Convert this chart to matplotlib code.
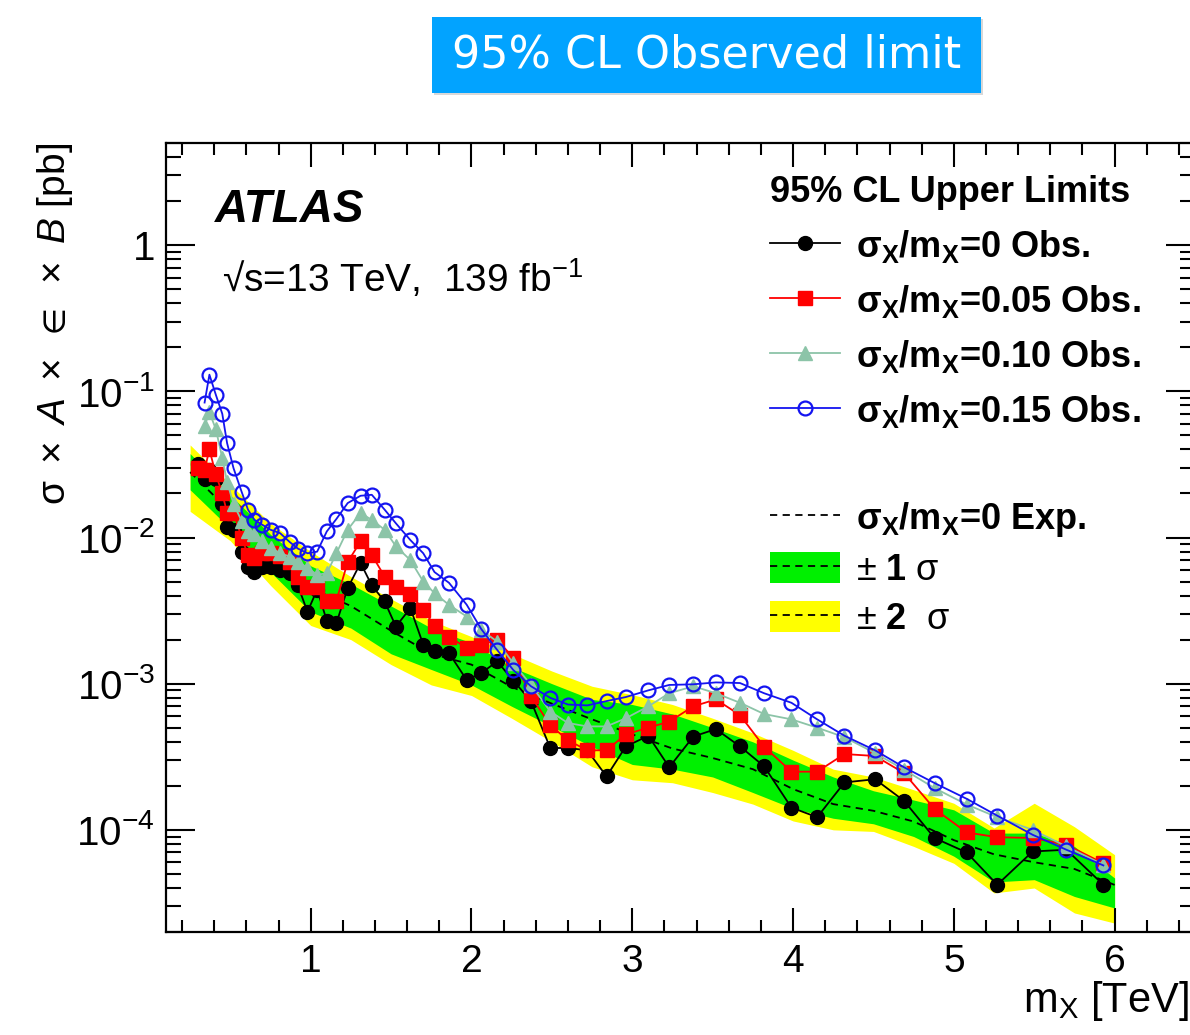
import matplotlib
matplotlib.use('Agg')
import matplotlib.pyplot as plt
import numpy as np
from matplotlib.lines import Line2D
from matplotlib.patches import Patch, Rectangle
from matplotlib.legend_handler import HandlerTuple
from matplotlib.ticker import MultipleLocator, LogLocator, FuncFormatter, NullFormatter

plt.rcParams['font.family'] = ['Liberation Sans', 'DejaVu Sans']
plt.rcParams['mathtext.fontset'] = 'custom'
plt.rcParams['mathtext.rm'] = 'Liberation Sans'
plt.rcParams['mathtext.it'] = 'Liberation Sans:italic'
plt.rcParams['mathtext.bf'] = 'Liberation Sans:bold'
plt.rcParams['mathtext.sf'] = 'Liberation Sans'
plt.rcParams['mathtext.fallback'] = 'stixsans'

# mass points [TeV]
mass = [0.30, 0.34, 0.37, 0.41, 0.45, 0.48, 0.52, 0.57, 0.61, 0.65, 0.70, 0.75, 0.81,
        0.87, 0.92, 0.98, 1.04, 1.10, 1.16, 1.23, 1.31, 1.38, 1.46, 1.53, 1.62, 1.70,
        1.77, 1.86, 1.97, 2.06, 2.16, 2.26, 2.37, 2.49, 2.60, 2.72, 2.84, 2.96, 3.10,
        3.23, 3.38, 3.52, 3.67, 3.82, 3.99, 4.15, 4.32, 4.51, 4.69, 4.88, 5.08, 5.27,
        5.49, 5.70, 5.93]

# observed limits [pb]
obs_w0 = [0.032, 0.025, 0.029, 0.025, 0.017, 0.0118, 0.0113, 0.0080, 0.0063, 0.0058,
          0.0063, 0.0063, 0.0060, 0.0057, 0.0047, 0.0031, 0.0044, 0.0027, 0.0026, 0.0045,
          0.0067, 0.0047, 0.00365, 0.00246, 0.00329, 0.00185, 0.00166, 0.00162, 0.00106,
          0.00118, 0.00142, 0.00105, 0.00076, 0.000363, 0.000363, 0.00035, 0.000232,
          0.000372, 0.00044, 0.000268, 0.000435, 0.000489, 0.000372, 0.000272, 0.000142,
          0.000122, 0.000211, 0.000222, 0.000158, 0.0000879, 0.000070, 0.0000421,
          0.0000711, 0.0000731, 0.0000421]
obs_w5 = [0.030, 0.029, 0.040, 0.027, 0.020, 0.0148, 0.0148, 0.0100, 0.0076, 0.0072,
          0.0078, 0.0078, 0.0075, 0.0068, 0.0054, 0.0046, 0.0046, 0.0037, 0.0037, 0.0068,
          0.0094, 0.0076, 0.0054, 0.0046, 0.0041, 0.0032, 0.0025, 0.0021, 0.00175,
          0.00184, 0.0020, 0.0015, 0.00082, 0.00052, 0.00041, 0.00035, 0.00035, 0.00045,
          0.00050, 0.00055, 0.00070, 0.00078, 0.00061, 0.00037, 0.00025, 0.00025, 0.00033,
          0.00032, 0.000245, 0.000139, 0.000096, 0.000089, 0.000088, 0.000079, 0.000059]
obs_w10 = [np.nan, 0.058, 0.072, 0.055, 0.035, 0.024, 0.017, 0.013, 0.011, 0.0105,
           0.0095, 0.0085, 0.0078, 0.0074, 0.00685, 0.0062, 0.00556, 0.0057, 0.0078,
           0.0113, 0.0147, 0.0132, 0.0113, 0.0087, 0.0070, 0.0050, 0.00416, 0.00346,
           0.00288, 0.00233, 0.00194, 0.00138, 0.00098, 0.000645, 0.000538, 0.00051,
           0.00051, 0.00058, 0.00070, 0.00086, 0.00096, 0.00086, 0.00074, 0.00062, 0.00057,
           0.00050, 0.00043, 0.000335, 0.000258, 0.000193, 0.000149, 0.000122, 0.000100,
           0.000077, 0.0000577]
obs_w15 = [np.nan, 0.0838, 0.130, 0.0947, 0.0702, 0.0442, 0.0298, 0.0206, 0.0155, 0.0132,
           0.0122, 0.0113, 0.0107, 0.0093, 0.0084, 0.0078, 0.0080, 0.0110, 0.0134, 0.0172,
           0.0193, 0.0196, 0.0155, 0.0125, 0.0096, 0.0078, 0.0058, 0.0049, 0.00347,
           0.00237, 0.0017, 0.00124, 0.00096, 0.00080, 0.00072, 0.00071, 0.00076, 0.00081,
           0.00090, 0.00098, 0.00099, 0.00102, 0.00101, 0.00086, 0.00074, 0.00057, 0.00044,
           0.00035, 0.000268, 0.000209, 0.000163, 0.000125, 0.0000925, 0.0000731, 0.0000571]

# expected limit (sigma/m = 0) and bands
band_mass = [0.25, 0.50, 0.75, 1.00, 1.25, 1.50, 1.75, 2.00, 2.25, 2.50, 2.75, 3.00,
             3.25, 3.50, 3.75, 4.00, 4.25, 4.50, 4.75, 5.00, 5.25, 5.50, 5.75, 6.00]
exp_lim = [0.028, 0.015, 0.0078, 0.0045, 0.0034, 0.0023, 0.0016, 0.00135, 0.00095,
           0.00073, 0.00057, 0.00045, 0.00036, 0.00031, 0.00026, 0.00019, 0.00015,
           0.000135, 0.000114, 0.000085, 0.000068, 0.00006, 0.000054, 0.000042]
exp_p1 = [0.0375, 0.0195, 0.0105, 0.0064, 0.0048, 0.0034, 0.0024, 0.0019, 0.0013, 0.0010,
          0.00078, 0.00072, 0.00062, 0.00050, 0.00040, 0.00030, 0.00023, 0.000185, 0.00016,
          0.000137, 0.000095, 0.000095, 0.000077, 0.0000468]
exp_m1 = [0.0212, 0.0115, 0.0058, 0.0031, 0.0024, 0.0016, 0.00125, 0.00098, 0.0007,
          0.00051, 0.00037, 0.00028, 0.00026, 0.00023, 0.00018, 0.00014, 0.00012, 0.00011,
          0.00009, 0.000066, 0.000044, 0.0000456, 0.000035, 0.0000292]
exp_p2 = [0.043, 0.023, 0.0125, 0.0080, 0.0054, 0.0038, 0.0027, 0.0021, 0.0016, 0.00122,
          0.00096, 0.00084, 0.00072, 0.00058, 0.00046, 0.00035, 0.00026, 0.00023, 0.000188,
          0.000152, 0.000103, 0.000152, 0.000105, 0.0000676]
exp_m2 = [0.0151, 0.0095, 0.0047, 0.0025, 0.0020, 0.00135, 0.00098, 0.00083, 0.00058,
          0.0004, 0.00027, 0.00022, 0.00021, 0.00018, 0.00015, 0.000115, 0.0001, 0.0000975,
          0.000077, 0.000059, 0.000037, 0.00004, 0.000027, 0.000023]

GREEN = '#00F000'
YELLOW = '#FFFF00'
TEAL = '#8CC4A8'
BLUE = '#1414F0'

fig = plt.figure(figsize=(11.9, 10.35), dpi=100)
ax = fig.add_axes([166 / 1190, 103 / 1035, 1029 / 1190, 789 / 1035])

ax.fill_between(band_mass, exp_m2, exp_p2, color=YELLOW, lw=0, zorder=1)
ax.fill_between(band_mass, exp_m1, exp_p1, color=GREEN, lw=0, zorder=2)
dash = (0, (4, 3))
h_exp, = ax.plot(band_mass, exp_lim, color='k', ls=dash, lw=1.3, zorder=3)

h0, = ax.plot(mass, obs_w0, color='k', lw=1.3, marker='o', ms=10, zorder=4)
h5, = ax.plot(mass, obs_w5, color='red', lw=1.3, marker='s', ms=9.5, zorder=5)
h10, = ax.plot(mass, obs_w10, color=TEAL, lw=1.3, marker='^', ms=10, zorder=6)
h15, = ax.plot(mass, obs_w15, color=BLUE, lw=1.3, marker='o', ms=10, mfc='none',
               mec=BLUE, mew=1.6, zorder=7)

ax.set_yscale('log')
ax.set_xlim(0.1, 6.5)
ax.set_ylim(2e-5, 5)

ax.xaxis.set_major_locator(MultipleLocator(1))
ax.xaxis.set_minor_locator(MultipleLocator(0.2))
ax.yaxis.set_major_locator(LogLocator(base=10, numticks=20))
ax.yaxis.set_minor_locator(LogLocator(base=10, subs=np.arange(2, 10), numticks=20))
ax.yaxis.set_minor_formatter(NullFormatter())
ax.yaxis.set_major_formatter(FuncFormatter(
    lambda v, p: '1' if abs(v - 1) < 1e-9 else r'$10^{%d}$' % round(np.log10(v))))

ax.tick_params(which='both', direction='in', top=True, right=True, width=1.5)
ax.tick_params(axis='x', which='major', length=17, labelsize=28, pad=9)
ax.tick_params(axis='x', which='minor', length=8.5)
ax.tick_params(axis='y', which='major', length=21, labelsize=29, pad=8)
ax.tick_params(axis='y', which='minor', length=11)
for s in ax.spines.values():
    s.set_linewidth(1.6)

ax.set_ylabel(r'$\mathrm{\sigma}\ \times\ \mathit{A}\ \times\ \mathrm{\in}\ \times\ \mathit{B}$ [pb]',
              fontsize=28, loc='top')
ax.yaxis.set_label_coords(-0.088, 1.0)
ax.set_xlabel(r'm$_{\mathrm{X}}$ [TeV]', fontsize=30, loc='right')
ax.xaxis.set_label_coords(0.994, -0.06)

ax.text(0.0476, 0.90, 'ATLAS', transform=ax.transAxes, fontsize=33,
        fontweight='bold', fontstyle='italic', va='baseline')
ax.text(0.054, 0.811, r'√s=13 TeV,  139 fb$^{-1}$', transform=ax.transAxes,
        fontsize=28, va='baseline')

leg_kw = dict(loc='upper left', frameon=False, prop={'weight': 'bold', 'size': 26},
              handlelength=1.95, handleheight=0.95, handletextpad=0.43,
              borderpad=0, borderaxespad=0, alignment='left', numpoints=1)

obs_labels = [r'$\mathbf{\sigma_X/m_X}$=0 Obs.',
              r'$\mathbf{\sigma_X/m_X}$=0.05 Obs.',
              r'$\mathbf{\sigma_X/m_X}$=0.10 Obs.',
              r'$\mathbf{\sigma_X/m_X}$=0.15 Obs.']
leg1 = ax.legend([h0, h5, h10, h15], obs_labels, bbox_to_anchor=(0.587, 0.96),
                 title='95% CL Upper Limits',
                 title_fontproperties={'weight': 'bold', 'size': 26},
                 labelspacing=0.5, **leg_kw)
leg1.set_zorder(10)
ax.add_artist(leg1)

patch_g = Patch(facecolor=GREEN, edgecolor='none')
patch_y = Patch(facecolor=YELLOW, edgecolor='none')
dash_leg = Line2D([], [], color='k', ls=dash, lw=1.3)
exp_labels = [r'$\mathbf{\sigma_X/m_X}$=0 Exp.',
              r'$\pm$ $\mathbf{1}$ $\mathrm{\sigma}$',
              r'$\pm$ $\mathbf{2}$  $\mathrm{\sigma}$']
leg2 = ax.legend([h_exp, (patch_g, dash_leg), (patch_y, dash_leg)], exp_labels,
                 bbox_to_anchor=(0.587, 0.548), labelspacing=0.36,
                 handler_map={tuple: HandlerTuple(ndivide=1)}, **leg_kw)
leg2.set_zorder(10)

# header box
fig.patches.append(Rectangle((434 / 1190, 1 - 95 / 1035), 549 / 1190, 76 / 1035,
                             transform=fig.transFigure, facecolor='#D8D8D8',
                             edgecolor='none', zorder=0))
fig.patches.append(Rectangle((432 / 1190, 1 - 93 / 1035), 549 / 1190, 76 / 1035,
                             transform=fig.transFigure, facecolor='#02A3FF',
                             edgecolor='none', zorder=1))
fig.text((432 + 549 / 2) / 1190, 1 - 55 / 1035, '95% CL Observed limit', color='white',
         fontsize=32, family='DejaVu Sans', ha='center', va='center', zorder=2)

fig.savefig('out.png', dpi=100)
